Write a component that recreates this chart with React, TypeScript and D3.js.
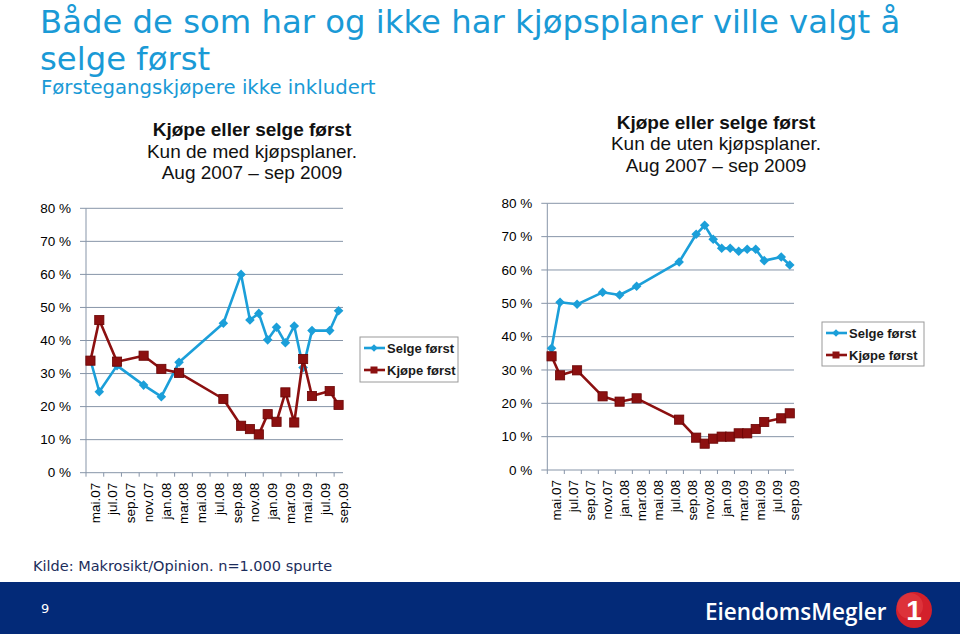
import React from "react"
import * as d3 from "d3"

// months with observations (Aug 2007 – sep 2009 survey rounds)
const pointMonths = [
  "2007-05", "2007-06", "2007-08", "2007-11", "2008-01", "2008-03",
  "2008-08", "2008-10", "2008-11", "2008-12", "2009-01", "2009-02",
  "2009-03", "2009-04", "2009-05", "2009-06", "2009-08", "2009-09",
]
const tickLabels = [
  "mai.07", "jul.07", "sep.07", "nov.07", "jan.08", "mar.08", "mai.08", "jul.08",
  "sep.08", "nov.08", "jan.09", "mar.09", "mai.09", "jul.09", "sep.09",
]
const yTicks = [0, 10, 20, 30, 40, 50, 60, 70, 80]

// Kun de med kjøpsplaner
const medSelge = [34.1, 24.5, 32.4, 26.5, 23.0, 33.4, 45.2, 60.0, 46.2, 48.2, 40.2, 44.0, 39.3, 44.4, 31.8, 43.0, 43.0, 49.0]
const medKjope = [33.9, 46.2, 33.6, 35.4, 31.4, 30.2, 22.3, 14.2, 13.2, 11.6, 17.7, 15.4, 24.3, 15.2, 34.4, 23.2, 24.7, 20.5]
// Kun de uten kjøpsplaner
const utenSelge = [36.5, 50.3, 49.7, 53.3, 52.5, 55.1, 62.4, 70.7, 73.4, 69.2, 66.5, 66.5, 65.6, 66.2, 66.2, 62.8, 63.9, 61.5]
const utenKjope = [34.1, 28.4, 29.9, 22.1, 20.5, 21.5, 15.1, 9.7, 7.9, 9.4, 10.0, 10.0, 11.0, 11.0, 12.3, 14.4, 15.5, 17.0]

const BLUE = "#1b9fd9"
const RED = "#8c1010"
const GRID = "#8795a8"
const TITLE = "#1a9ad6"

const parseMonth = d3.timeParse("%Y-%m")
const startMonth = parseMonth("2007-05")!
const monthIdx = pointMonths.map(m => d3.timeMonth.count(startMonth, parseMonth(m)!))
const MONTHS = 29

interface PanelProps {
  left: number
  right: number
  top: number
  bottom: number
  selge: number[]
  kjope: number[]
  headY: number
  headX: number
  subLine: string
  legend: { x: number; y: number; w: number; h: number }
}

function Panel({ left, right, top, bottom, selge, kjope, headY, headX, subLine, legend }: PanelProps) {
  const x = d3.scaleLinear().domain([0, MONTHS]).range([left, right])
  const y = d3.scaleLinear().domain([0, 80]).range([bottom, top])
  const px = (i: number) => x(monthIdx[i] + 0.5)

  const line = d3.line<number>()
    .x((_, i) => px(i))
    .y(d => y(d))

  const diamond = (cx: number, cy: number, r = 4.8) =>
    `M${cx},${cy - r}L${cx + r},${cy}L${cx},${cy + r}L${cx - r},${cy}Z`

  const font = "'Liberation Sans', Arial, sans-serif"

  return (
    <g>
      {/* headings */}
      <text x={headX} y={headY} textAnchor="middle" fontFamily={font} fontSize={19} fontWeight="bold" fill="#111">
        Kjøpe eller selge først
      </text>
      <text x={headX} y={headY + 21.5} textAnchor="middle" fontFamily={font} fontSize={19} fill="#111">
        {subLine}
      </text>
      <text x={headX} y={headY + 43} textAnchor="middle" fontFamily={font} fontSize={19} fill="#111">
        Aug 2007 – sep 2009
      </text>

      {/* gridlines and y axis */}
      {yTicks.map(t => (
        <g key={t}>
          <line x1={left} x2={right} y1={y(t)} y2={y(t)} stroke={GRID} strokeWidth={1} />
          <line x1={left - 6} x2={left} y1={y(t)} y2={y(t)} stroke={GRID} strokeWidth={1} />
          <text x={left - 15} y={y(t)} dy="0.35em" textAnchor="end" fontFamily={font} fontSize={13.5} fill="#000">
            {t} %
          </text>
        </g>
      ))}
      <line x1={left} x2={left} y1={top} y2={bottom} stroke={GRID} strokeWidth={1} />

      {/* x axis ticks and labels */}
      {tickLabels.map((lab, k) => (
        <g key={lab}>
          <line x1={x(2 * k)} x2={x(2 * k)} y1={bottom} y2={bottom + 4} stroke={GRID} strokeWidth={1} />
          <text
            transform={`translate(${x(2 * k + 1)},${bottom + 10}) rotate(-90)`}
            dy="0.36em"
            textAnchor="end"
            fontFamily={font}
            fontSize={13.5}
            fill="#000"
          >
            {lab}
          </text>
        </g>
      ))}

      {/* series */}
      <path d={line(selge) ?? ""} fill="none" stroke={BLUE} strokeWidth={2.6} strokeLinejoin="round" />
      {selge.map((v, i) => (
        <path key={"s" + i} d={diamond(px(i), y(v))} fill={BLUE} />
      ))}
      <path d={line(kjope) ?? ""} fill="none" stroke={RED} strokeWidth={2.6} strokeLinejoin="round" />
      {kjope.map((v, i) => (
        <rect key={"k" + i} x={px(i) - 4.6} y={y(v) - 4.6} width={9.2} height={9.2} fill={RED} stroke="#6a0505" strokeWidth={0.8} />
      ))}

      {/* legend */}
      <rect x={legend.x} y={legend.y} width={legend.w} height={legend.h} fill="#fff" stroke="#9a9a9a" strokeWidth={1} />
      <line x1={legend.x + 4} x2={legend.x + 25} y1={legend.y + 11} y2={legend.y + 11} stroke={BLUE} strokeWidth={2.6} />
      <path d={diamond(legend.x + 14, legend.y + 11, 3.8)} fill={BLUE} />
      <text x={legend.x + 27} y={legend.y + 11} dy="0.35em" fontFamily={font} fontSize={13} fontWeight="bold" fill="#1a1a1a">
        Selge først
      </text>
      <line x1={legend.x + 4} x2={legend.x + 25} y1={legend.y + 33} y2={legend.y + 33} stroke={RED} strokeWidth={2.6} />
      <rect x={legend.x + 10.5} y={legend.y + 29.5} width={7} height={7} fill={RED} />
      <text x={legend.x + 27} y={legend.y + 33} dy="0.35em" fontFamily={font} fontSize={13} fontWeight="bold" fill="#1a1a1a">
        Kjøpe først
      </text>
    </g>
  )
}

export default function App() {
  const verdana = "'DejaVu Sans', Verdana, sans-serif"
  return (
    <svg width={960} height={634} style={{ position: "absolute", left: 0, top: 0, background: "#fff" }}>
      <rect width={960} height={634} fill="#fff" />
      <text x={40} y={33} fontFamily={verdana} fontSize={32.3} fill={TITLE}>
        Både de som har og ikke har kjøpsplaner ville valgt å
      </text>
      <text x={40} y={70} fontFamily={verdana} fontSize={32.3} fill={TITLE}>
        selge først
      </text>
      <text x={41} y={94} fontFamily={verdana} fontSize={19.7} fill={TITLE}>
        Førstegangskjøpere ikke inkludert
      </text>

      <Panel
        left={86}
        right={343}
        top={208.3}
        bottom={472.7}
        selge={medSelge}
        kjope={medKjope}
        headX={252}
        headY={136}
        subLine="Kun de med kjøpsplaner."
        legend={{ x: 360, y: 337, w: 98, h: 45 }}
      />
      <Panel
        left={547.3}
        right={794}
        top={203.3}
        bottom={470}
        selge={utenSelge}
        kjope={utenKjope}
        headX={716}
        headY={128.5}
        subLine="Kun de uten kjøpsplaner."
        legend={{ x: 822, y: 322, w: 102, h: 44 }}
      />

      <text x={33} y={571} fontFamily={verdana} fontSize={14.5} fill="#1c2d5c">
        Kilde: Makrosikt/Opinion. n=1.000 spurte
      </text>

      {/* footer band */}
      <rect x={0} y={582} width={960} height={52} fill="#032a78" />
      <text x={41} y={613} fontFamily={verdana} fontSize={13} fill="#fff">
        9
      </text>
      <text x={705} y={620} fontFamily="'Open Sans', 'Liberation Sans', sans-serif" fontSize={22.5} fontWeight={600} fill="#fff">
        EiendomsMegler
      </text>
      <circle cx={914} cy={610} r={18} fill="#d3202b" />
      <circle cx={910} cy={606} r={13} fill="#e8434a" opacity={0.5} />
      <text x={914} y={620} textAnchor="middle" fontFamily="'Liberation Sans', Arial, sans-serif" fontSize={28} fontWeight="bold" fill="#fff">
        1
      </text>
    </svg>
  )
}
